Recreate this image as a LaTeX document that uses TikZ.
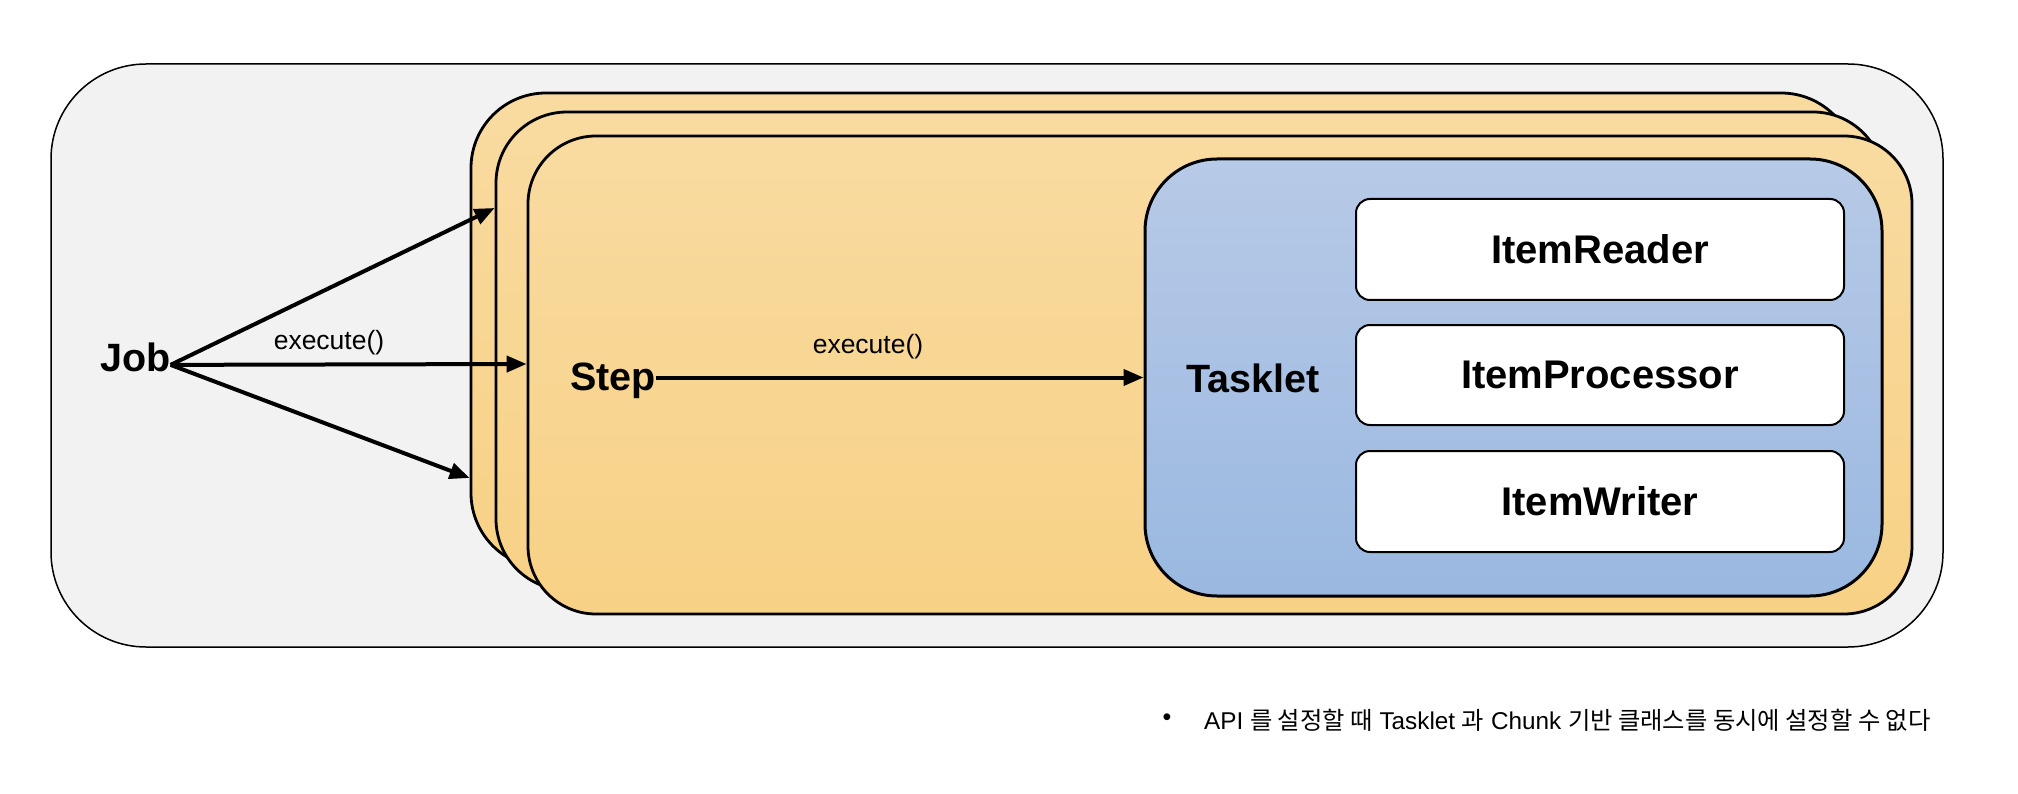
\documentclass[tikz,border=0pt]{standalone}
\usepackage{fontspec}
\setmainfont{Liberation Sans}
\newfontfamily\kr{Noto Sans CJK KR}
\usetikzlibrary{arrows.meta}
\definecolor{outerfill}{HTML}{F2F2F2}
\definecolor{steptop}{HTML}{F9DBA1}
\definecolor{stepbot}{HTML}{F7D185}
\definecolor{tasktop}{HTML}{B7CAE7}
\definecolor{taskbot}{HTML}{9AB8E0}
\begin{document}
\begin{tikzpicture}[x=1pt,y=-1pt,
  outerbox/.style={draw=black, line width=1.5pt, fill=outerfill, rounded corners=95pt, inner sep=0pt},
  stepbox/.style={draw=black, line width=2.8pt, top color=steptop, bottom color=stepbot, inner sep=0pt},
  taskbox/.style={draw=black, line width=3pt, top color=tasktop, bottom color=taskbot, rounded corners=72pt, inner sep=0pt},
  itembox/.style={draw=black, line width=2pt, fill=white, rounded corners=14pt, inner sep=0pt, minimum width=488pt, font=\fontsize{40}{48}\selectfont\bfseries},
  bigtext/.style={inner sep=0pt, font=\fontsize{39.5}{47}\selectfont\bfseries},
  lbl/.style={inner sep=0pt, font=\fontsize{26.5}{32}\selectfont},
  arr/.style={line width=4pt, -{Triangle[length=20pt,width=16pt]}}
]
\useasboundingbox (0,0) rectangle (2018,794);

\node[outerbox, minimum width=1892pt, minimum height=583pt] (outer) at (997,355.5) {};

\node[stepbox, rounded corners=75pt, minimum width=1385pt, minimum height=475pt] (box1) at (1163.5,330.5) {};
\node[stepbox, rounded corners=71pt, minimum width=1388pt, minimum height=478pt] (box2) at (1190,351) {};
\node[stepbox, rounded corners=68pt, minimum width=1384pt, minimum height=478pt] (box3) at (1220,375) {};

\node[taskbox, minimum width=737pt, minimum height=437pt] (tasklet) at (1513.5,377.5) {};

\node[itembox, minimum height=101pt] (reader) at (1600,249.5) {ItemReader};
\node[itembox, minimum height=100pt] (processor) at (1600,375) {ItemProcessor};
\node[itembox, minimum height=101pt] (writer) at (1600,501.5) {ItemWriter};

\node[bigtext, anchor=base west] (job) at (100,371) {Job};
\node[bigtext, anchor=base west] (step) at (570,390) {Step};
\node[bigtext, anchor=base west] (tasklettext) at (1186,392) {Tasklet};

\node[lbl] (exec1) at (329,343) {execute()};
\node[lbl] (exec2) at (868,347) {execute()};

\draw[arr] ([yshift=-8pt]job.east) -- (box2.west |- 0,208);
\draw[arr] ([yshift=-8pt]job.east) -- (box3.west |- 0,364);
\draw[arr] ([yshift=-8pt]job.east) -- (box1.west |- 0,478);
\draw[arr] (step.east |- tasklet.west) -- (tasklet.west);

\node[inner sep=0pt, font=\fontsize{25}{30}\selectfont] (bullet) at (1167,720) {•};
\node[inner sep=0pt, anchor=base west, font=\fontsize{24.3}{29}\selectfont] (note) at (1204,729)
  {API {\kr 를 설정할 때} Tasklet {\kr 과} Chunk {\kr 기반 클래스를 동시에 설정할 수 없다}};
\end{tikzpicture}
\end{document}
